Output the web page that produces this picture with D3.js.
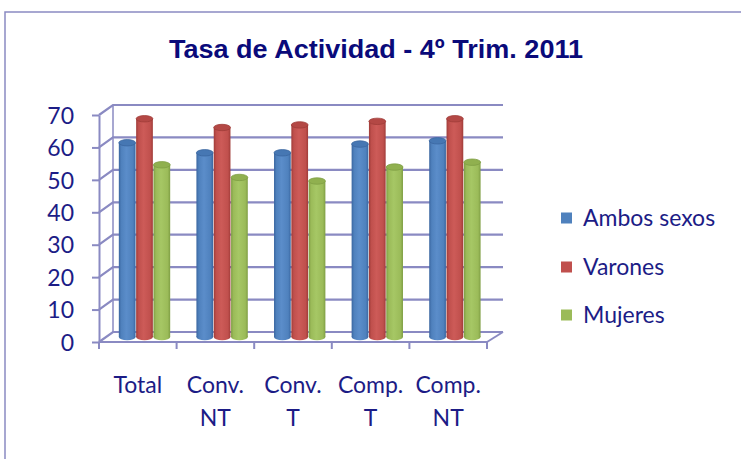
<!DOCTYPE html>
<html><head><meta charset="utf-8">
<script src="https://cdn.jsdelivr.net/npm/d3@7"></script>
<style>html,body{margin:0;padding:0;background:#fff;}svg{display:block;}</style>
</head><body>
<svg id="chart" width="741" height="459"></svg>
<script>
const categories = ["Total", "Conv. NT", "Conv. T", "Comp. T", "Comp. NT"];
const categoryLines = [["Total"], ["Conv.", "NT"], ["Conv.", "T"], ["Comp.", "T"], ["Comp.", "NT"]];
const seriesNames = ["Ambos sexos", "Varones", "Mujeres"];
const ambosSexos = [59.9, 56.8, 56.8, 59.5, 60.5];
const varones = [67.3, 64.6, 65.4, 66.5, 67.3];
const mujeres = [53.1, 49.2, 48.1, 52.4, 53.9];
const yTicks = [0, 10, 20, 30, 40, 50, 60, 70];
const title = "Tasa de Actividad - 4º Trim. 2011";

const seriesValues = [ambosSexos, varones, mujeres];
const colors = [
  {base: "#4f81bd", dark: "#3a66a0", light: "#5b8dca", top: "#4677b3"},
  {base: "#c0504d", dark: "#a03c39", light: "#cd5b58", top: "#b44845"},
  {base: "#9bbb59", dark: "#7f9e44", light: "#a6c765", top: "#90b04f"}
];
const gridColor = "#8a8ac2";
const textColor = "#1c1c86";

const svg = d3.select("#chart");
const defs = svg.append("defs");
colors.forEach((c, i) => {
  const g = defs.append("linearGradient").attr("id", "cyl" + i).attr("x1", "0").attr("x2", "1").attr("y1", "0").attr("y2", "0");
  g.append("stop").attr("offset", "0%").attr("stop-color", c.dark);
  g.append("stop").attr("offset", "15%").attr("stop-color", c.base);
  g.append("stop").attr("offset", "45%").attr("stop-color", c.light);
  g.append("stop").attr("offset", "85%").attr("stop-color", c.base);
  g.append("stop").attr("offset", "100%").attr("stop-color", c.dark);
});

// frame
svg.append("path").attr("d", "M5,459 V12 H741").attr("fill", "none").attr("stroke", gridColor).attr("stroke-width", 1.5);

// title
svg.append("text").attr("x", 376).attr("y", 58).attr("text-anchor", "middle")
  .attr("font-family", "'Liberation Sans Narrow','Arial Narrow','Liberation Sans',Arial,sans-serif")
  .attr("font-weight", "bold").attr("font-size", 26.5).attr("fill", "#0a0a7a")
  .attr("textLength", 414).attr("lengthAdjust", "spacingAndGlyphs")
  .text(title);

const x0 = 99, x1 = 487;
const x = d3.scaleBand().domain(categories).range([x0, x1]).paddingInner(0).paddingOuter(0);
const xs = d3.scaleBand().domain(seriesNames).range([0, x.bandwidth()]).paddingInner(0).paddingOuter(0.74);
const y = d3.scaleLinear().domain([0, 70]).range([342, 115]);
const back = {dx: 14, dy: -10};
const mid = {dx: 7, dy: -5};

const grid = svg.append("g");
yTicks.forEach(t => {
  const yf = y(t);
  grid.append("path")
    .attr("d", `M${x0},${yf} L${x0 + back.dx},${yf + back.dy} H${x1 + back.dx + 2}`)
    .attr("fill", "none").attr("stroke", gridColor).attr("stroke-width", 2.2);
});
grid.append("line").attr("x1", x0 + back.dx).attr("x2", x0 + back.dx)
  .attr("y1", y(0) + back.dy).attr("y2", y(70) + back.dy)
  .attr("stroke", gridColor).attr("stroke-width", 1.5);
grid.append("line").attr("x1", x1).attr("y1", y(0)).attr("x2", x1 + back.dx + 2).attr("y2", y(0) + back.dy)
  .attr("stroke", gridColor).attr("stroke-width", 2);

// bars (cylinders)
const bars = svg.append("g");
categories.forEach((c, ci) => {
  seriesNames.forEach((s, si) => {
    const v = seriesValues[si][ci];
    const w = xs.bandwidth() - 0.6;
    const bx = x(c) + xs(s) + mid.dx;
    const yt = y(v) + mid.dy;
    const yb = y(0) + mid.dy;
    const ry = 3.2;
    const g = bars.append("g");
    g.append("ellipse").attr("cx", bx + w / 2).attr("cy", yb).attr("rx", w / 2).attr("ry", ry)
      .attr("fill", `url(#cyl${si})`);
    g.append("rect").attr("x", bx).attr("y", yt).attr("width", w).attr("height", yb - yt)
      .attr("fill", `url(#cyl${si})`);
    g.append("ellipse").attr("cx", bx + w / 2).attr("cy", yt).attr("rx", w / 2).attr("ry", ry)
      .attr("fill", colors[si].top).attr("stroke", colors[si].dark).attr("stroke-width", 0.8);
  });
});

// front left axis
const yAxis = d3.axisLeft(y).tickValues(yTicks).tickSize(7).tickSizeOuter(0).tickPadding(18);
const ya = svg.append("g").attr("transform", `translate(${x0},0)`).call(yAxis);
ya.select(".domain").attr("stroke", gridColor).attr("stroke-width", 2);
ya.selectAll(".tick line").attr("stroke", gridColor).attr("stroke-width", 2);
ya.selectAll(".tick text").attr("fill", textColor).attr("font-family", "Lato, 'Open Sans', sans-serif")
  .attr("font-size", 23).attr("dy", "0.36em");

// front floor edge with category ticks
svg.append("line").attr("x1", x0).attr("x2", x1).attr("y1", y(0)).attr("y2", y(0))
  .attr("stroke", gridColor).attr("stroke-width", 2.2);
const bounds = categories.map(c => x(c)).concat([x1]);
svg.append("g").selectAll("line").data(bounds).join("line")
  .attr("x1", d => d).attr("x2", d => d).attr("y1", y(0)).attr("y2", y(0) + 7)
  .attr("stroke", gridColor).attr("stroke-width", 2);

// category labels
const cl = svg.append("g");
categories.forEach((c, ci) => {
  const t = cl.append("text").attr("x", x(c) + x.bandwidth() / 2).attr("y", 393)
    .attr("text-anchor", "middle").attr("fill", textColor)
    .attr("font-family", "Lato, 'Open Sans', sans-serif").attr("font-size", 23);
  categoryLines[ci].forEach((line, li) => {
    t.append("tspan").attr("x", x(c) + x.bandwidth() / 2).attr("dy", li === 0 ? 0 : 33).text(line);
  });
});

// legend
const legendY = [218, 267, 315];
const lg = svg.append("g");
seriesNames.forEach((s, si) => {
  lg.append("rect").attr("x", 561).attr("y", legendY[si] - 5.5).attr("width", 11).attr("height", 11)
    .attr("fill", colors[si].base);
  lg.append("text").attr("x", 583).attr("y", legendY[si]).attr("dy", "0.35em")
    .attr("fill", textColor).attr("font-family", "Lato, 'Open Sans', sans-serif").attr("font-size", 23)
    .text(s);
});
</script>
</body></html>
